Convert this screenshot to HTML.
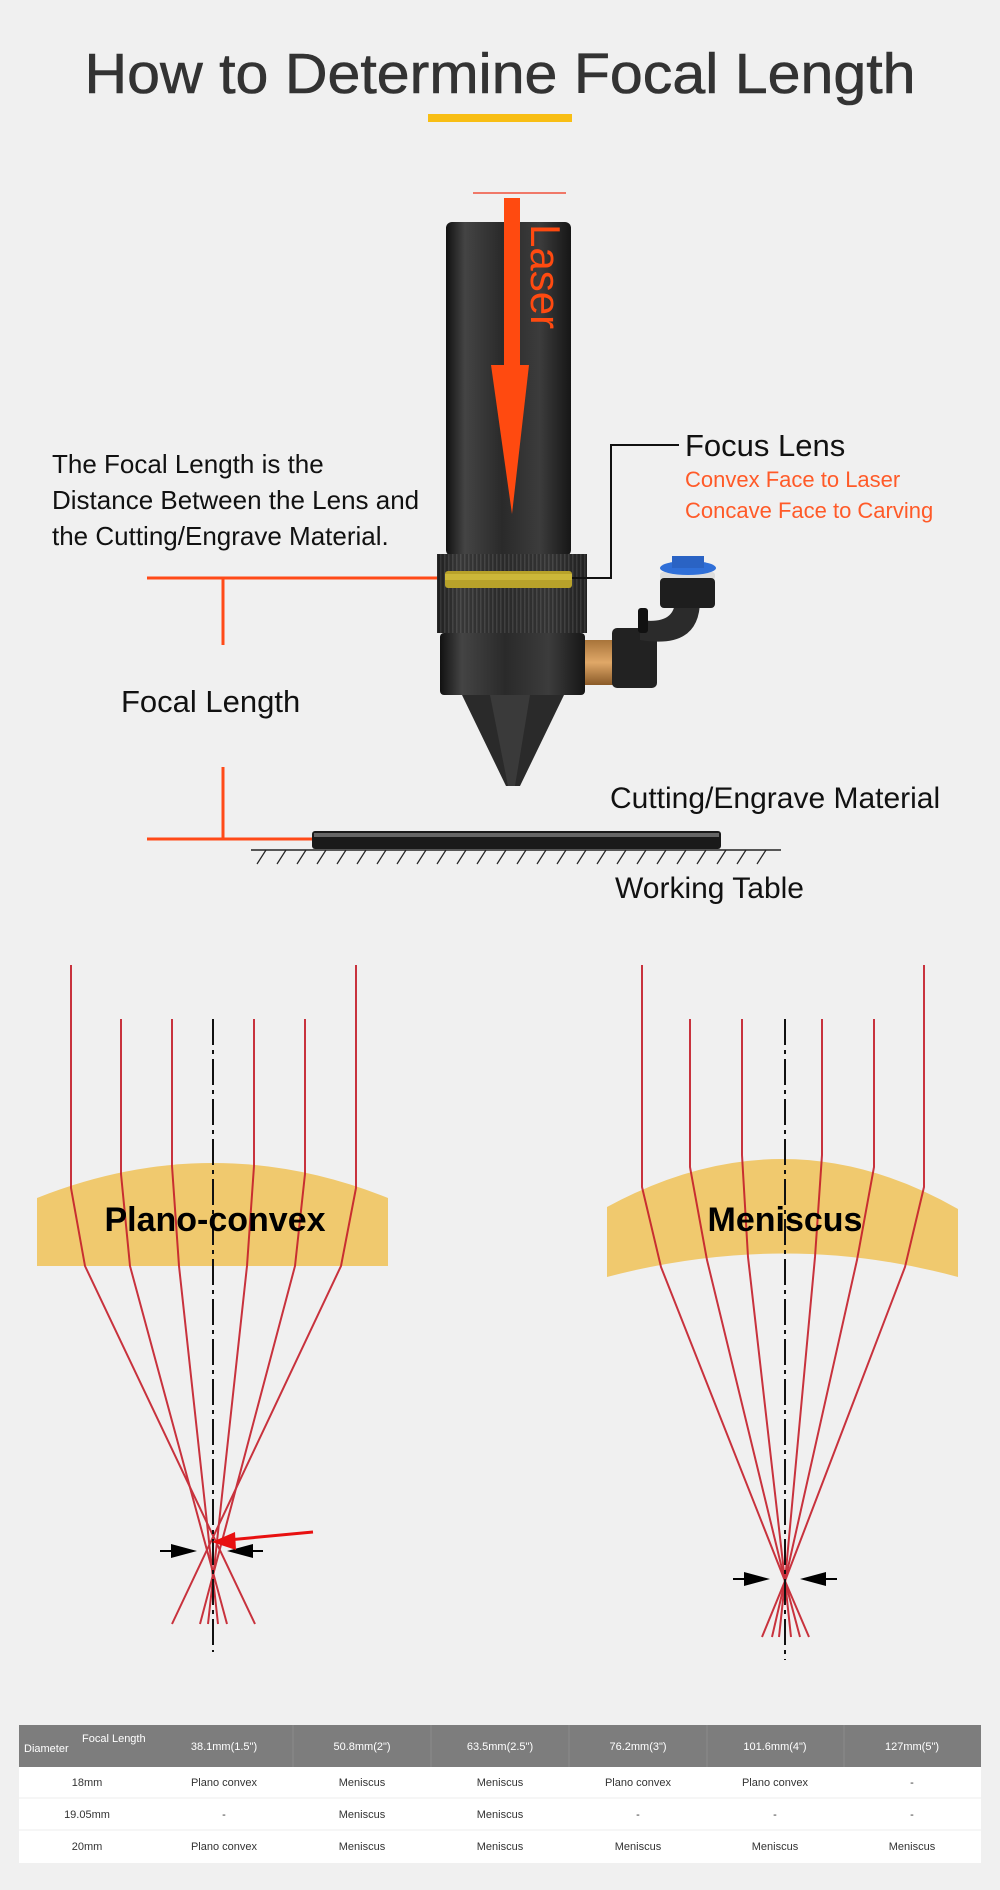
<!DOCTYPE html>
<html><head><meta charset="utf-8"><style>
html,body{margin:0;padding:0;background:#f0f0f0}
svg{display:block}
text{font-family:"Liberation Sans",sans-serif}
</style></head><body>
<svg width="1000" height="1890" viewBox="0 0 1000 1890" xmlns="http://www.w3.org/2000/svg">
<defs>
<linearGradient id="cyl" x1="0" x2="1" y1="0" y2="0">
<stop offset="0" stop-color="#111"/><stop offset="0.15" stop-color="#444"/><stop offset="0.45" stop-color="#2a2a2a"/><stop offset="0.75" stop-color="#3c3c3c"/><stop offset="1" stop-color="#161616"/>
</linearGradient>
<linearGradient id="brass" x1="0" x2="0" y1="0" y2="1"><stop offset="0" stop-color="#a8743a"/><stop offset="0.5" stop-color="#e0a868"/><stop offset="1" stop-color="#8a5a28"/></linearGradient>
<pattern id="knurl" width="4" height="10" patternUnits="userSpaceOnUse"><rect width="4" height="10" fill="#2a2a2a"/><rect width="1.5" height="10" fill="#555"/></pattern>
</defs>
<rect width="1000" height="1890" fill="#f0f0f0"/>
<!-- title -->
<text x="500" y="93" font-size="57" fill="#333" text-anchor="middle" textLength="831" lengthAdjust="spacingAndGlyphs" stroke="#333" stroke-width="0.6">How to Determine Focal Length</text>
<rect x="428" y="114" width="144" height="8" fill="#f8be14"/>

<!-- laser head -->
<rect x="446" y="222" width="125" height="334" rx="6" fill="url(#cyl)"/>
<rect x="437" y="554" width="150" height="79" fill="url(#knurl)"/>
<rect x="437" y="554" width="150" height="79" fill="url(#cyl)" opacity="0.5"/>
<rect x="445" y="571" width="127" height="17" rx="3" fill="#b8a22a"/>
<rect x="445" y="574" width="127" height="6" fill="#d4c040" opacity="0.7"/>
<rect x="440" y="633" width="145" height="62" rx="4" fill="url(#cyl)"/>
<polygon points="462,695 564,695 520,786 506,786" fill="#2a2a2a"/>
<polygon points="490,695 530,695 515,786 508,786" fill="#3a3a3a"/>
<!-- fitting -->
<rect x="585" y="640" width="30" height="45" fill="url(#brass)"/>
<rect x="612" y="628" width="45" height="60" rx="5" fill="#222"/>
<path d="M640 640 Q700 650 700 600 L700 575 L675 575 L675 600 Q675 625 640 620Z" fill="#2b2b2b"/>
<rect x="660" y="572" width="55" height="8" rx="3" fill="#ddd"/>
<rect x="660" y="578" width="55" height="30" rx="4" fill="#1e1e1e"/>
<ellipse cx="688" cy="568" rx="28" ry="7" fill="#2f6fd8"/>
<rect x="672" y="556" width="32" height="12" fill="#2a63c4"/>
<rect x="638" y="608" width="10" height="25" rx="3" fill="#111"/>
<!-- laser arrow -->
<line x1="473" y1="193" x2="566" y2="193" stroke="#f0503a" stroke-width="1.5"/>
<rect x="504" y="198" width="16" height="167" fill="#ff4a10"/>
<polygon points="491,365 529,365 512,514" fill="#ff4a10"/>
<text transform="translate(531,224) rotate(90)" font-size="42" fill="#ff4a10">Laser</text>
<!-- focus lens connector -->
<polyline points="572,578 611,578 611,445 679,445" fill="none" stroke="#111" stroke-width="2"/>
<text x="685" y="456" font-size="31" fill="#111">Focus Lens</text>
<text x="685" y="487" font-size="22" fill="#ff5a28">Convex Face to Laser</text>
<text x="685" y="518" font-size="22" fill="#ff5a28">Concave Face to Carving</text>
<text font-size="26" fill="#111"><tspan x="52" y="473">The Focal Length is the</tspan><tspan x="52" y="509">Distance Between the Lens and</tspan><tspan x="52" y="545">the Cutting/Engrave Material.</tspan></text>
<!-- dimension lines -->
<g stroke="#ff4a18" stroke-width="3" fill="none">
<line x1="147" y1="578" x2="437" y2="578"/>
<line x1="223" y1="578" x2="223" y2="645"/>
<line x1="223" y1="767" x2="223" y2="839"/>
<line x1="147" y1="839" x2="312" y2="839"/>
</g>
<text x="121" y="712" font-size="31" fill="#111">Focal Length</text>
<!-- material and table -->
<rect x="312" y="831" width="409" height="18" rx="3" fill="#1a1a1a"/>
<rect x="314" y="833" width="405" height="4" fill="#666"/>
<line x1="251" y1="850" x2="781" y2="850" stroke="#222" stroke-width="1.5"/>
<g stroke="#222" stroke-width="1.2">
<line x1="266" y1="850" x2="257" y2="864"/><line x1="286" y1="850" x2="277" y2="864"/><line x1="306" y1="850" x2="297" y2="864"/><line x1="326" y1="850" x2="317" y2="864"/><line x1="346" y1="850" x2="337" y2="864"/><line x1="366" y1="850" x2="357" y2="864"/><line x1="386" y1="850" x2="377" y2="864"/><line x1="406" y1="850" x2="397" y2="864"/><line x1="426" y1="850" x2="417" y2="864"/><line x1="446" y1="850" x2="437" y2="864"/><line x1="466" y1="850" x2="457" y2="864"/><line x1="486" y1="850" x2="477" y2="864"/><line x1="506" y1="850" x2="497" y2="864"/><line x1="526" y1="850" x2="517" y2="864"/><line x1="546" y1="850" x2="537" y2="864"/><line x1="566" y1="850" x2="557" y2="864"/><line x1="586" y1="850" x2="577" y2="864"/><line x1="606" y1="850" x2="597" y2="864"/><line x1="626" y1="850" x2="617" y2="864"/><line x1="646" y1="850" x2="637" y2="864"/><line x1="666" y1="850" x2="657" y2="864"/><line x1="686" y1="850" x2="677" y2="864"/><line x1="706" y1="850" x2="697" y2="864"/><line x1="726" y1="850" x2="717" y2="864"/><line x1="746" y1="850" x2="737" y2="864"/><line x1="766" y1="850" x2="757" y2="864"/>
</g>
<text x="610" y="808" font-size="30" fill="#111">Cutting/Engrave Material</text>
<text x="615" y="898" font-size="30" fill="#111">Working Table</text>

<!-- Plano-convex -->
<path d="M37 1198 Q213 1128 388 1198 L388 1266 L37 1266Z" fill="#f0c96e"/>
<g stroke="#c41e2a" stroke-width="2" fill="none" opacity="0.9">
<polyline points="71,965 71,1188 85,1266 255,1624"/>
<polyline points="121,1019 121,1174 130,1266 227,1624"/>
<polyline points="172,1019 172,1166 179,1266 218,1624"/>
<polyline points="254,1019 254,1166 247,1266 208,1624"/>
<polyline points="305,1019 305,1174 295,1266 200,1624"/>
<polyline points="356,965 356,1188 341,1266 172,1624"/>
</g>
<line x1="213" y1="1019" x2="213" y2="1652" stroke="#111" stroke-width="2" stroke-dasharray="26,5,4,5"/>
<text x="215" y="1231" font-size="34" font-weight="bold" fill="#000" text-anchor="middle">Plano-convex</text>
<line x1="160" y1="1551" x2="180" y2="1551" stroke="#000" stroke-width="2"/>
<polygon points="171,1544 197,1551 171,1558" fill="#000"/>
<line x1="243" y1="1551" x2="263" y2="1551" stroke="#000" stroke-width="2"/>
<polygon points="253,1544 227,1551 253,1558" fill="#000"/>
<line x1="313" y1="1532" x2="228" y2="1540" stroke="#e81010" stroke-width="3"/>
<polygon points="235,1532 212,1542 236,1550" fill="#e81010"/>

<!-- Meniscus -->
<path d="M607 1207 Q785 1110 958 1209 L958 1277 Q785 1230 607 1277Z" fill="#f0c96e"/>
<g stroke="#c41e2a" stroke-width="2" fill="none" opacity="0.9">
<polyline points="642,965 642,1187 661,1267 785,1581 762,1637"/>
<polyline points="690,1019 690,1167 707,1260 785,1581 772,1637"/>
<polyline points="742,1019 742,1155 748,1257 785,1581 779,1637"/>
<polyline points="822,1019 822,1155 815,1257 785,1581 791,1637"/>
<polyline points="874,1019 874,1167 857,1260 785,1581 800,1637"/>
<polyline points="924,965 924,1187 905,1267 785,1581 809,1637"/>
</g>
<line x1="785" y1="1019" x2="785" y2="1660" stroke="#111" stroke-width="2" stroke-dasharray="26,5,4,5"/>
<text x="785" y="1231" font-size="34" font-weight="bold" fill="#000" text-anchor="middle">Meniscus</text>
<line x1="733" y1="1579" x2="752" y2="1579" stroke="#000" stroke-width="2"/>
<polygon points="744,1572 770,1579 744,1586" fill="#000"/>
<line x1="818" y1="1579" x2="837" y2="1579" stroke="#000" stroke-width="2"/>
<polygon points="826,1572 800,1579 826,1586" fill="#000"/>

<!-- table -->
<rect x="19" y="1725" width="962" height="138" fill="#fff"/>
<rect x="19" y="1725" width="962" height="42" fill="#7d7d7d"/>
<g stroke="#ececec" stroke-width="1"><line x1="19" y1="1798" x2="981" y2="1798"/><line x1="19" y1="1830" x2="981" y2="1830"/></g>
<g stroke="#8a8a8a" stroke-width="1"><line x1="293" y1="1725" x2="293" y2="1767"/><line x1="431" y1="1725" x2="431" y2="1767"/><line x1="569" y1="1725" x2="569" y2="1767"/><line x1="707" y1="1725" x2="707" y2="1767"/><line x1="844" y1="1725" x2="844" y2="1767"/></g>
<g font-size="11" fill="#fff" text-anchor="middle">
<text x="24" y="1752" text-anchor="start">Diameter</text>
<text x="82" y="1742" text-anchor="start">Focal Length</text>
<text x="224" y="1750">38.1mm(1.5")</text><text x="362" y="1750">50.8mm(2")</text><text x="500" y="1750">63.5mm(2.5")</text><text x="638" y="1750">76.2mm(3")</text><text x="775" y="1750">101.6mm(4")</text><text x="912" y="1750">127mm(5")</text>
</g>
<g font-size="11" fill="#333" text-anchor="middle">
<text x="87" y="1786">18mm</text><text x="224" y="1786">Plano convex</text><text x="362" y="1786">Meniscus</text><text x="500" y="1786">Meniscus</text><text x="638" y="1786">Plano convex</text><text x="775" y="1786">Plano convex</text><text x="912" y="1786">-</text>
<text x="87" y="1818">19.05mm</text><text x="224" y="1818">-</text><text x="362" y="1818">Meniscus</text><text x="500" y="1818">Meniscus</text><text x="638" y="1818">-</text><text x="775" y="1818">-</text><text x="912" y="1818">-</text>
<text x="87" y="1850">20mm</text><text x="224" y="1850">Plano convex</text><text x="362" y="1850">Meniscus</text><text x="500" y="1850">Meniscus</text><text x="638" y="1850">Meniscus</text><text x="775" y="1850">Meniscus</text><text x="912" y="1850">Meniscus</text>
</g>
</svg>
</body></html>
